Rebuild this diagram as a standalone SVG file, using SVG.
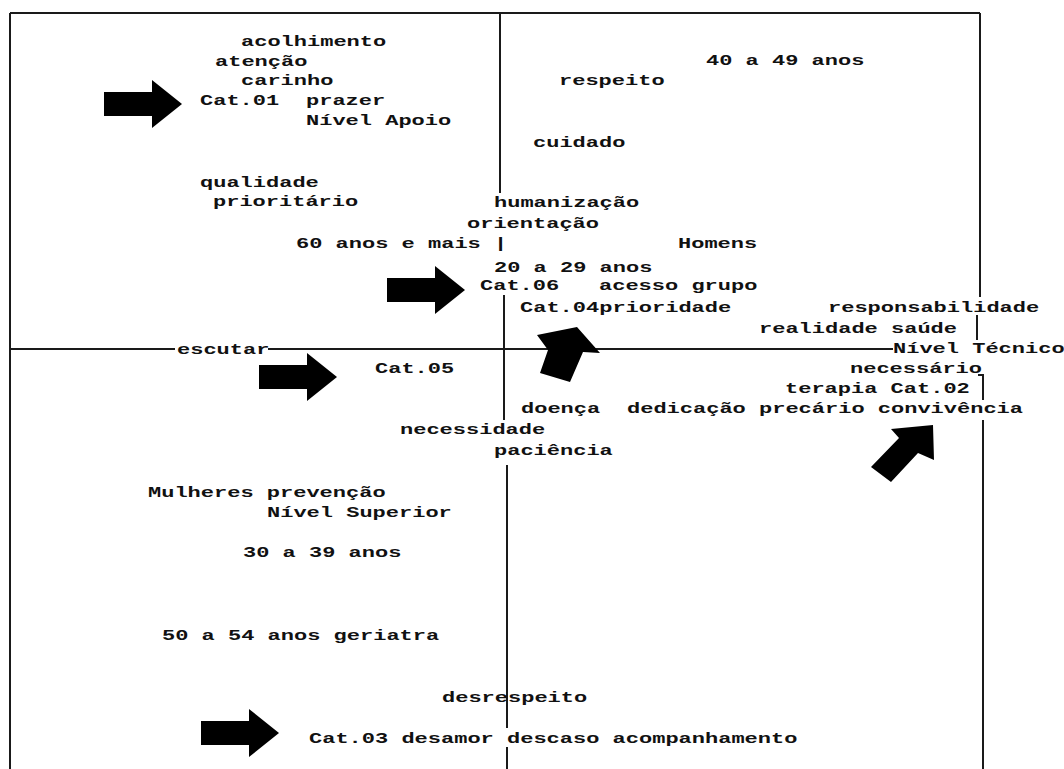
<svg xmlns="http://www.w3.org/2000/svg" width="1064" height="769" viewBox="0 0 1064 769">
<style>
text { font-family: "Liberation Mono", "Courier New", monospace; font-weight: bold; font-size: 15px; fill: #111; }
.ln { stroke: #1a1a1a; stroke-width: 2; fill: none; }
.ar { fill: #000; }
</style>
<defs>
<path id="rarrow" d="M0,-12 H48 V-24 L78,0 L48,24 V12 H0 Z"/>
</defs>
<rect x="0" y="0" width="1064" height="769" fill="#fff"/>
<g id="connectors">
<path class="ln" d="M10,13 V769 M10,13 H980 M980,13 V297 M977,315 V340 M978,375 H983 V400 M983,420 V769"/>
<path class="ln" d="M500,13 V193 M504,295 V420 M507,465 V728 M507,747 V769"/>
<path class="ln" d="M10,349 H175 M268,349 H893"/>
</g>
<g id="arrows">
<use class="ar" href="#rarrow" x="104" y="104"/>
<use class="ar" href="#rarrow" x="387" y="290"/>
<use class="ar" href="#rarrow" x="259" y="377"/>
<use class="ar" href="#rarrow" x="201" y="733"/>
<polygon class="ar" points="537,335 577,327 600,353 583,352 570,382 540,373 548,350"/>
<polygon class="ar" points="933,425 891,429 899,438 871,467 891,482 918,453 934,460"/>
</g>
<g id="labels">
<text x="241" y="46" textLength="145.2" lengthAdjust="spacingAndGlyphs">acolhimento</text>
<text x="215" y="66" textLength="92.4" lengthAdjust="spacingAndGlyphs">atenção</text>
<text x="241" y="85" textLength="92.4" lengthAdjust="spacingAndGlyphs">carinho</text>
<text x="200" y="105" textLength="79.2" lengthAdjust="spacingAndGlyphs">Cat.01</text>
<text x="306" y="105" textLength="79.2" lengthAdjust="spacingAndGlyphs">prazer</text>
<text x="306" y="125" textLength="145.2" lengthAdjust="spacingAndGlyphs">Nível Apoio</text>
<text x="200" y="187" textLength="118.8" lengthAdjust="spacingAndGlyphs">qualidade</text>
<text x="213" y="206" textLength="145.2" lengthAdjust="spacingAndGlyphs">prioritário</text>
<text x="706" y="65" textLength="158.4" lengthAdjust="spacingAndGlyphs">40 a 49 anos</text>
<text x="559" y="85" textLength="105.6" lengthAdjust="spacingAndGlyphs">respeito</text>
<text x="533" y="147" textLength="92.4" lengthAdjust="spacingAndGlyphs">cuidado</text>
<text x="494" y="207" textLength="145.2" lengthAdjust="spacingAndGlyphs">humanização</text>
<text x="467" y="228" textLength="132" lengthAdjust="spacingAndGlyphs">orientação</text>
<text x="296" y="248" textLength="211.2" lengthAdjust="spacingAndGlyphs">60 anos e mais |</text>
<text x="678" y="248" textLength="79.2" lengthAdjust="spacingAndGlyphs">Homens</text>
<text x="494" y="272" textLength="158.4" lengthAdjust="spacingAndGlyphs">20 a 29 anos</text>
<text x="480" y="290" textLength="79.2" lengthAdjust="spacingAndGlyphs">Cat.06</text>
<text x="599" y="290" textLength="158.4" lengthAdjust="spacingAndGlyphs">acesso grupo</text>
<text x="520" y="312" textLength="211.2" lengthAdjust="spacingAndGlyphs">Cat.04prioridade</text>
<text x="828" y="312" textLength="211.2" lengthAdjust="spacingAndGlyphs">responsabilidade</text>
<text x="759" y="333" textLength="198" lengthAdjust="spacingAndGlyphs">realidade saúde</text>
<text x="893" y="353" textLength="171.6" lengthAdjust="spacingAndGlyphs">Nível Técnico</text>
<text x="177" y="354" textLength="92.4" lengthAdjust="spacingAndGlyphs">escutar</text>
<text x="375" y="373" textLength="79.2" lengthAdjust="spacingAndGlyphs">Cat.05</text>
<text x="850" y="373" textLength="132" lengthAdjust="spacingAndGlyphs">necessário</text>
<text x="785" y="393" textLength="184.8" lengthAdjust="spacingAndGlyphs">terapia Cat.02</text>
<text x="521" y="413" textLength="79.2" lengthAdjust="spacingAndGlyphs">doença</text>
<text x="627" y="413" textLength="396" lengthAdjust="spacingAndGlyphs">dedicação precário convivência</text>
<text x="400" y="434" textLength="145.2" lengthAdjust="spacingAndGlyphs">necessidade</text>
<text x="494" y="455" textLength="118.8" lengthAdjust="spacingAndGlyphs">paciência</text>
<text x="148" y="497" textLength="237.6" lengthAdjust="spacingAndGlyphs">Mulheres prevenção</text>
<text x="267" y="517" textLength="184.8" lengthAdjust="spacingAndGlyphs">Nível Superior</text>
<text x="243" y="557" textLength="158.4" lengthAdjust="spacingAndGlyphs">30 a 39 anos</text>
<text x="162" y="640" textLength="277.2" lengthAdjust="spacingAndGlyphs">50 a 54 anos geriatra</text>
<text x="442" y="702" textLength="145.2" lengthAdjust="spacingAndGlyphs">desrespeito</text>
<text x="309" y="743" textLength="488.4" lengthAdjust="spacingAndGlyphs">Cat.03 desamor descaso acompanhamento</text>
</g>
</svg>
